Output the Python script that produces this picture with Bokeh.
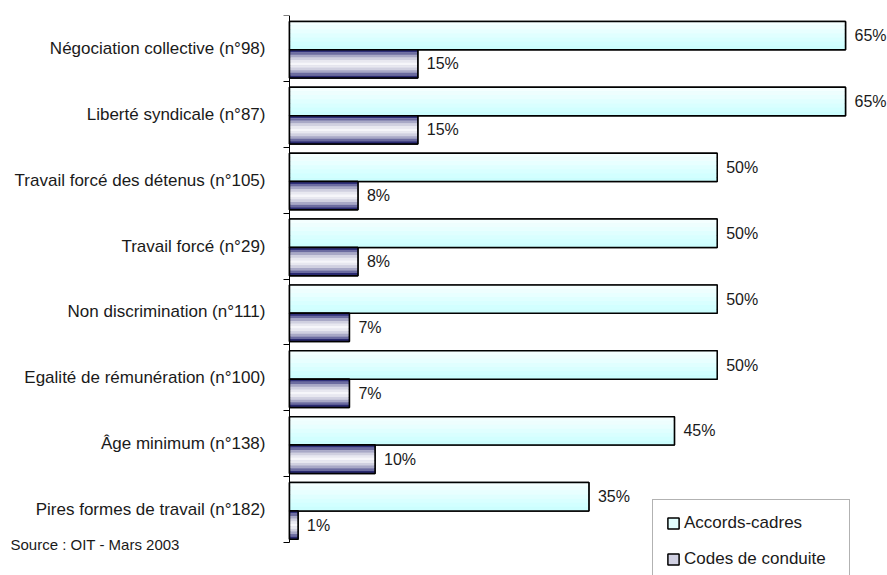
from bokeh.plotting import figure
from bokeh.models import (Range1d, FixedTicker, Legend, LegendItem, Label)
from bokeh.core.properties import value
from bokeh.embed import file_html
from bokeh.resources import INLINE

categories = ["Négociation collective (n°98)", "Liberté syndicale (n°87)",
              "Travail forcé des détenus (n°105)", "Travail forcé (n°29)",
              "Non discrimination (n°111)", "Egalité de rémunération (n°100)",
              "Âge minimum (n°138)", "Pires formes de travail (n°182)"]
accords = [65, 65, 50, 50, 50, 50, 45, 35]
codes = [15, 15, 8, 8, 7, 7, 10, 1]
series_names = ["Accords-cadres", "Codes de conduite"]
source_text = "Source : OIT - Mars 2003"

FONT = "Liberation Sans"
n = len(categories)
idx = list(range(n))

# scale: 556 px for 65 %, value axis origin 289 px from the left edge
PPU = 556 / 65.0
X0 = -289 / PPU
X1 = (887 - 289) / PPU

p = figure(width=887, height=575, output_backend="svg", toolbar_location=None,
           x_range=Range1d(X0, X1), y_range=Range1d(start=8.0, end=-0.5),
           x_axis_location=None, min_border_left=0, min_border_right=0,
           min_border_top=15, min_border_bottom=0)
p.outline_line_color = None
p.grid.visible = False
p.background_fill_color = "white"
p.border_fill_color = "white"

ax = p.yaxis[0]
ax.fixed_location = 0
ax.ticker = FixedTicker(ticks=idx, minor_ticks=[i - 0.5 for i in range(n + 1)])
ax.major_label_overrides = {i: c for i, c in zip(idx, categories)}
ax.bounds = (-0.5, n - 0.5)
ax.major_tick_out = 0
ax.major_tick_in = 0
ax.minor_tick_out = 6
ax.minor_tick_in = 0
ax.minor_tick_line_color = "#000000"
ax.axis_line_color = "#000000"
ax.major_label_standoff = 18
ax.major_label_text_font = FONT
ax.major_label_text_font_size = "17px"
ax.major_label_text_color = "#1a1a1a"

H = 0.43
off_a = 0.02 - H / 2
off_c = 0.02 + H / 2

acc_colors = ["#f4ffff", "#eefefe", "#e8ffff", "#e0ffff", "#d9ffff", "#d2ffff", "#ccfefe"]
cod_colors = ["#30307a", "#6c6ca0", "#a8a8c6", "#d0d0e0", "#e8e8f0", "#f6f6fa",
              "#e8e8f0", "#d0d0e0", "#a8a8c6", "#6c6ca0", "#2a2a70"]


def draw(vals, off, base_color, stripes):
    ys = [i + off for i in idx]
    base = p.hbar(y=ys, right=vals, left=0, height=H, fill_color=base_color,
                  line_color="#000000", line_width=1.5)
    m = len(stripes)
    for k, col in enumerate(stripes):
        yk = [y - H / 2 + (k + 0.5) * H / m for y in ys]
        p.hbar(y=yk, right=vals, left=0, height=H / m * 1.05, fill_color=col,
               line_color=None)
    p.hbar(y=ys, right=vals, left=0, height=H, fill_color=None,
           line_color="#000000", line_width=1.5)
    p.text(x=vals, y=ys, text=[f"{v}%" for v in vals], x_offset=9,
           text_baseline="middle", text_align="left", text_font=value(FONT),
           text_font_size="16px", text_color="#1a1a1a")
    return base


r_a = draw(accords, off_a, "#e2ffff", acc_colors)
r_c = draw(codes, off_c, "#d0d0e2", cod_colors)

legend = Legend(items=[LegendItem(label=series_names[0], renderers=[r_a]),
                       LegendItem(label=series_names[1], renderers=[r_c])],
                location=(652, -8), padding=13, glyph_width=14, glyph_height=14,
                label_standoff=4, spacing=16, label_height=20, label_width=152,
                label_text_font=FONT, label_text_font_size="17px",
                label_text_color="#1a1a1a", border_line_color="#666666",
                border_line_width=1, background_fill_color="white",
                background_fill_alpha=1.0)
p.add_layout(legend)

src = Label(x=-279 / PPU, y=-0.5 + (544 - 15) / 65.875, text=source_text,
            text_font=FONT, text_font_size="15px", text_baseline="middle",
            text_color="#1a1a1a")
p.add_layout(src)

open("out.html", "w").write(file_html(p, INLINE))
